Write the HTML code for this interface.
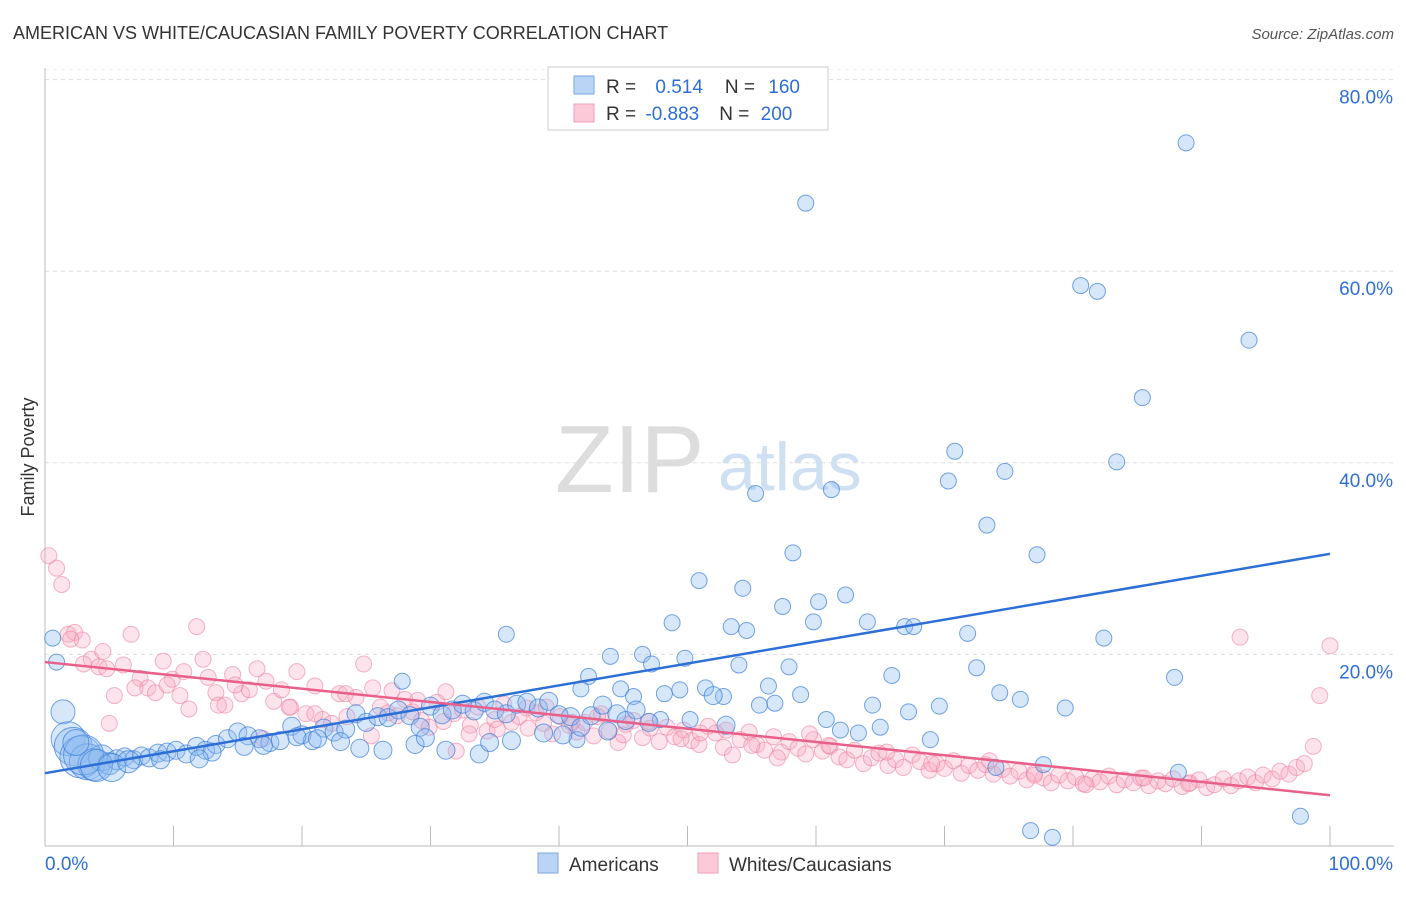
<!DOCTYPE html>
<html><head><meta charset="utf-8"><style>
body{margin:0;background:#fff;font-family:"Liberation Sans",sans-serif}
svg text{font-family:"Liberation Sans",sans-serif}
</style></head><body>
<svg id="c" width="1406" height="892">
<text x="13" y="39" font-size="18" fill="#333">AMERICAN VS WHITE/CAUCASIAN FAMILY POVERTY CORRELATION CHART</text>
<text x="1394" y="39" font-size="15" fill="#555" font-style="italic" text-anchor="end">Source: ZipAtlas.com</text>
<text x="34" y="457" font-size="18" fill="#333" transform="rotate(-90 34 457)" text-anchor="middle">Family Poverty</text>
<text x="555" y="492" font-size="96" fill="#ddd" font-family="Liberation Serif">ZIP</text>
<text x="718" y="490" font-size="68" fill="#cfe0f3">atlas</text>
<g id="grid"></g><g id="pts"></g><g id="lines"></g>
<g>
<rect x="548" y="67" width="280" height="63" fill="#fff" stroke="#ccc"/>
<rect x="574" y="76" width="20" height="18" fill="#b9d4f5" stroke="#7aa7e0"/>
<rect x="574" y="104" width="20" height="18" fill="#fcc9d8" stroke="#f0a0b8"/>
<text x="606" y="93" font-size="19" fill="#333">R = <tspan fill="#2d6fd6" dx="14">0.514</tspan><tspan dx="22" fill="#333">N = </tspan><tspan fill="#2d6fd6" dx="8">160</tspan></text>
<text x="606" y="120" font-size="19" fill="#333">R = <tspan fill="#2d6fd6" dx="4">-0.883</tspan><tspan dx="20" fill="#333">N = </tspan><tspan fill="#2d6fd6" dx="6">200</tspan></text>
</g>
<g>
<rect x="538" y="853" width="20" height="20" fill="#b9d4f5" stroke="#7aa7e0"/>
<text x="569" y="871" font-size="19" fill="#333">Americans</text>
<rect x="698" y="853" width="20" height="20" fill="#fcc9d8" stroke="#f0a0b8"/>
<text x="729" y="871" font-size="19" fill="#333">Whites/Caucasians</text>
</g>
</svg>
<script>
const yTicks=[20,40,60,80];
const xLabels=["0.0%","100.0%"];
const blueX=[88.8,59.2,80.6,81.9,93.7,85.4,83.4,70.8,70.3,74.7,55.3,61.2,73.3,77.2,58.2,50.9,54.3,62.3,60.2,57.4,48.8,59.8,64.0,53.4,54.6,66.9,67.6,71.8,82.4,35.9,44.0,46.5,49.8,47.2,54.0,57.9,72.5,65.9,87.9,42.3,27.8,56.3,44.8,41.7,51.4,49.4,48.2,58.8,74.3,75.9,52.8,45.8,55.6,56.8,64.4,69.6,79.4,67.2,60.8,50.2,47.9,61.9,65.0,63.3,68.9,41.4,77.7,88.2,74.0,76.7,78.4,97.7,0.6,0.9,
1.4,1.8,2.2,2.8,3.3,3.8,4.4,5.0,5.6,6.2,6.9,7.5,8.1,8.8,9.5,10.2,11.0,11.8,12.5,13.3,14.2,15.0,15.8,16.7,17.5,18.3,19.2,20.0,20.8,21.7,22.5,23.4,24.2,25.0,25.9,26.7,27.5,28.4,29.2,30.0,30.9,31.7,32.5,33.4,34.2,35.0,35.9,36.7,37.5,38.4,39.2,40.0,40.9,41.7,42.5,43.4,3.0,4.0,5.2,2.4,6.5,9.0,13.0,17.0,21.2,24.5,28.8,31.2,33.8,36.3,38.8,12.0,15.5,19.6,23.0,26.3,29.6,34.6,40.3,44.5,45.2,46.0,43.8,47.0,52.0,53.0];
const blueY=[73.4,67.1,58.5,57.9,52.8,46.8,40.1,41.2,38.1,39.1,36.8,37.2,33.5,30.4,30.6,27.7,26.9,26.2,25.5,25.0,23.3,23.4,23.4,22.9,22.5,22.9,22.9,22.2,21.7,22.1,19.8,20.0,19.6,19.0,18.9,18.7,18.6,17.8,17.6,17.7,17.2,16.7,16.4,16.4,16.5,16.3,15.9,15.8,16.0,15.3,15.6,15.6,14.7,14.9,14.7,14.6,14.4,14.0,13.2,13.2,13.2,12.1,12.4,11.8,11.1,11.1,8.5,7.7,8.2,1.6,0.9,3.1,21.7,19.2,
14.0,11.2,10.4,9.3,8.8,8.5,9.2,8.6,9.0,9.3,9.0,9.4,9.2,9.7,9.8,10.0,9.6,10.4,10.0,10.6,11.2,11.9,11.5,11.2,10.8,11.0,12.5,11.6,11.0,12.3,11.9,12.2,13.8,12.9,13.5,13.4,14.2,13.6,12.4,14.6,13.7,14.2,14.8,14.1,15.0,14.2,13.8,14.8,15.0,14.4,15.1,13.7,13.5,12.4,13.6,14.7,9.5,8.4,8.2,10.8,8.8,9.0,9.8,10.5,11.2,10.2,10.6,10.0,9.6,11.0,11.8,9.1,10.4,11.4,10.9,10.0,11.3,10.8,11.6,13.8,13.1,14.2,12.0,12.9,15.7,12.6];
const blueR=[8,8,8,8,8,8,8,8,8,8,8,8,8,8,8,8,8,8,8,8,8,8,8,8,8,8,8,8,8,8,8,8,8,8,8,8,8,8,8,8,8,8,8,8,8,8,8,8,8,8,8,8,8,8,8,8,8,8,8,8,8,8,8,8,8,8,8,8,8,8,8,8,8,8,
12,17,19,21,18,16,13,11,10,9,9,9,9,9,9,9,9,9,9,9,9,9,9,9,9,9,9,9,9,9,9,9,9,9,9,9,9,9,9,9,9,9,9,9,9,9,9,9,9,9,9,9,9,9,9,9,20,16,14,13,11,9,9,9,9,9,9,9,9,9,9,9,9,9,9,9,9,9,9,9,9,9,9,9,9,9];
const pinkX=[0.3,0.9,1.3,1.8,2.3,2.9,3.6,4.2,4.8,5.4,6.1,6.7,7.4,8.0,8.6,9.2,9.9,10.5,11.2,11.8,12.3,12.7,13.3,14.0,14.6,15.3,15.9,16.5,17.2,17.8,18.4,19.1,19.6,20.3,21.0,21.6,22.3,22.9,23.5,24.2,24.8,25.4,26.1,26.7,27.4,28.0,28.6,29.3,29.9,30.5,31.2,31.8,32.0,32.5,33.1,33.7,34.4,35.0,35.7,36.3,36.9,37.6,38.2,38.8,39.5,40.1,40.8,41.4,42.0,42.7,43.3,43.9,44.6,45.2,45.8,46.5,47.1,47.8,48.4,49.0,49.7,50.3,50.9,51.6,52.2,52.8,53.5,54.1,54.8,55.4,56.0,56.7,57.3,57.9,58.6,59.2,59.8,60.5,61.1,61.8,62.4,63.0,63.7,64.3,64.9,65.6,66.2,66.8,67.5,68.1,68.8,69.4,70.0,70.7,71.3,71.9,72.6,73.2,73.8,74.5,75.1,75.8,76.4,77.0,77.7,78.3,78.9,79.6,80.2,80.8,81.5,82.1,82.8,83.4,84.0,84.7,85.3,85.9,86.6,87.2,87.8,88.5,89.1,89.8,90.4,91.0,91.7,92.3,92.9,93.6,94.2,94.8,95.5,96.1,96.8,97.4,98.0,98.7,99.2,100.0,3.0,5.0,7.0,9.5,13.5,17.0,21.0,25.5,29.0,33.0,37.5,41.0,45.0,49.5,53.0,57.0,61.0,65.5,69.0,73.5,77.0,81.0,85.5,89.0,93.0,2.0,4.5,10.8,14.8,19.0,23.4,27.0,31.0,35.2,39.0,43.0,47.0,51.0,55.0,59.5,63.5];
const pinkY=[30.3,29.0,27.3,22.1,22.3,21.5,19.5,18.7,18.5,15.7,18.9,22.1,17.5,16.5,16.0,19.3,17.4,15.7,14.3,22.9,19.5,17.6,16.0,14.7,17.9,15.9,16.3,18.5,17.2,15.1,16.3,14.5,18.2,13.8,16.7,13.2,12.8,15.9,13.5,15.5,19.0,11.5,14.5,13.9,13.6,15.3,14.0,13.1,12.4,15.0,16.1,13.8,9.9,14.2,12.6,14.5,12.0,13.2,14.8,12.9,13.5,12.3,13.9,12.8,11.7,13.5,12.6,11.9,12.9,11.5,13.8,12.0,10.8,12.7,13.1,11.3,12.3,10.9,12.4,11.4,12.1,11.0,10.6,12.5,11.8,10.3,9.5,11.1,11.9,10.6,10.0,11.4,9.8,10.9,10.2,9.6,11.1,9.9,10.4,9.3,9.0,10.0,8.6,9.2,9.7,8.4,9.0,8.2,9.5,8.8,7.9,8.6,8.1,8.9,7.6,8.4,7.9,8.5,7.5,8.0,7.3,7.8,6.9,7.6,7.1,6.6,7.4,6.8,7.2,6.5,7.0,6.7,7.3,6.4,6.9,6.6,7.1,6.3,6.8,6.5,7.0,6.2,6.6,6.9,6.1,6.4,7.0,6.3,6.8,7.2,6.6,7.4,7.0,7.8,7.5,8.2,8.6,10.4,15.7,20.9,19.0,12.8,16.5,16.8,14.7,11.2,13.8,16.5,15.2,11.7,14.4,12.9,11.6,11.2,12.1,9.2,10.5,9.8,8.6,8.9,7.4,6.4,7.1,6.5,21.8,21.6,20.3,18.2,16.8,14.5,15.9,16.2,13.0,12.2,14.5,13.5,13.0,11.8,10.5,11.7];
const blueTrend=[7.6,30.5];
const pinkTrend=[19.2,5.3];
const X0=45,X1=1330,Y0=846,PY=9.58;
const xs=v=>X0+(X1-X0)*v/100, ys=v=>Y0-v*PY;
const NS="http://www.w3.org/2000/svg";
function mk(t,a,p){const e=document.createElementNS(NS,t);for(const k in a)e.setAttribute(k,a[k]);p.appendChild(e);return e;}
const G=document.getElementById('grid');
yTicks.forEach(t=>{
 const l=mk('line',{x1:45,x2:1394,y1:ys(t),y2:ys(t),stroke:'#ddd','stroke-dasharray':'4,4'},G);
 
 
 const tx=mk('text',{x:1393,y:ys(t)+24,'font-size':19,fill:'#2d6fd6','text-anchor':'end'},G);tx.textContent=t.toFixed(1)+'%';
 
 
});
mk('line',{x1:45,x2:1394,y1:ys(80)-10,y2:ys(80)-10,stroke:'#eee','stroke-dasharray':'4,4'},G);
mk('line',{x1:45,x2:45,y1:68,y2:846,stroke:'#bbb'},G);
mk('line',{x1:45,x2:1394,y1:846,y2:846,stroke:'#bbb'},G);
for(let i=0;i<=10;i++){mk('line',{x1:xs(i*10),x2:xs(i*10),y1:826,y2:846,stroke:'#bbb'},G);}
const xl0=mk('text',{x:45,y:870,'font-size':19,fill:'#2d6fd6'},G);xl0.textContent=xLabels[0];


const xl1=mk('text',{x:1393,y:870,'font-size':19,fill:'#2d6fd6','text-anchor':'end'},G);xl1.textContent=xLabels[1];


const P=document.getElementById('pts');
pinkX.forEach((x,i)=>{if(pinkY[i]===undefined)return;const c=mk('circle',{cx:xs(x),cy:ys(pinkY[i]),r:8,fill:'rgba(248,170,195,0.32)',stroke:'rgba(235,130,160,0.6)','stroke-width':1},P);
 
 });
blueX.forEach((x,i)=>{if(blueY[i]===undefined)return;const c=mk('circle',{cx:xs(x),cy:ys(blueY[i]),r:blueR[i]||8,fill:'rgba(140,185,240,0.35)',stroke:'rgba(60,125,215,0.7)','stroke-width':1},P);
 
 });
const L=document.getElementById('lines');
const bl=mk('line',{x1:xs(0),y1:ys(blueTrend[0]),x2:xs(100),y2:ys(blueTrend[1]),stroke:'#2d6fd6','stroke-width':2.5},L);


const pl=mk('line',{x1:xs(0),y1:ys(pinkTrend[0]),x2:xs(100),y2:ys(pinkTrend[1]),stroke:'#e8608a','stroke-width':2.5},L);


</script>
</body></html>
